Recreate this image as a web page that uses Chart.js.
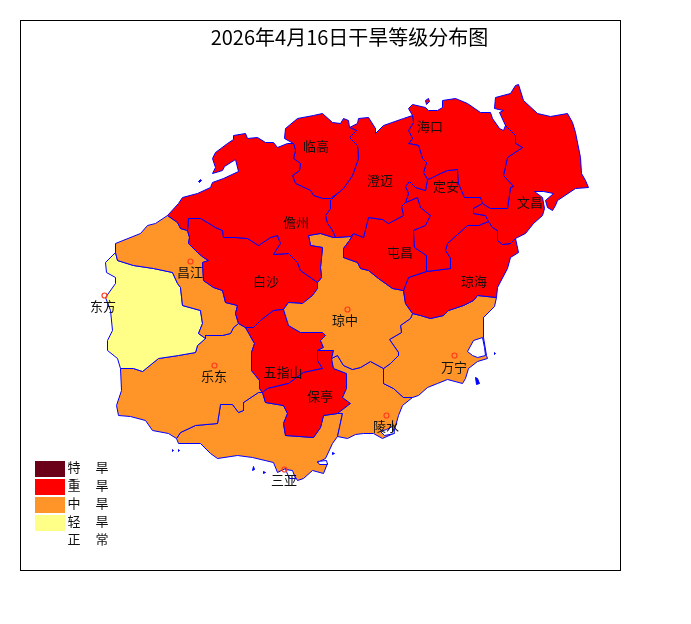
<!DOCTYPE html>
<html>
<head>
<meta charset="utf-8">
<script src="https://cdn.jsdelivr.net/npm/chart.js@4"></script>
<style>
    html, body { margin: 0; background: #fff; overflow: hidden; }
    canvas { display: block; }
</style>
</head>
<body>
<canvas id="droughtMap" width="691" height="624"></canvas>
<script>
const chartTitle = "2026年4月16日干旱等级分布图";

// Legend
const levelNames  = ["特旱", "重旱", "中旱", "轻旱", "正常"];
const levelColors = ["#6B0019", "#FF0000", "#FF9428", "#FFFF88", "#FFFFFF"];

// Boundary chains, in map units
const dzCoast = [[167,215],[178,203],[182,197],[197,193],[210,187],[212,182],[223,178],[238,171],[235,159],[224,166],[222,170],[212,173],[215,167],[212,158],[215,152],[227,143],[233,139],[233,135],[245,133],[247,138],[257,137],[265,142],[273,142],[277,147],[287,143],[293,143]];
const dzLg = [[293,143],[295,150],[293,158],[300,163],[299,170],[292,175],[295,183],[310,190],[313,195],[322,198],[330,198],[337,193]];
const dzCm = [[337,193],[330,200],[330,208],[325,215],[327,223],[332,230],[335,237]];
const dzQz = [[335,237],[333,237],[320,233],[308,235],[310,245],[322,247],[320,267],[321,277],[317,282]];
const dzBs = [[317,282],[300,270],[297,262],[288,253],[273,254],[280,243],[277,235],[270,237],[258,245],[247,238],[235,237],[223,237],[222,230],[215,227],[207,222],[200,218],[188,218],[187,230]];
const dzCj = [[187,230],[180,228],[177,222],[167,215]];

const lgCoast = [[293,143],[284,138],[285,128],[297,118],[313,115],[322,113],[332,122],[340,123],[343,118],[348,120],[349,127]];
const lgCm = [[349,127],[356,130],[349,137],[357,145],[358,158],[352,175],[343,188],[337,193]];

const cmCoast = [[349,127],[357,123],[358,118],[368,117],[375,128],[375,133],[383,125],[403,118],[412,115]];
const cmHk = [[412,115],[413,122],[408,130],[412,138],[408,143],[418,145],[422,158],[426,162],[423,172],[427,179]];
const cmDa = [[427,179],[425,190],[415,187],[409,181],[405,186],[408,193],[405,202]];
const cmTc = [[405,202],[401,206],[403,215],[388,223],[382,219],[368,217],[363,237],[353,233]];
const cmQz = [[353,233],[350,236],[335,237]];

const hkCoast = [[412,115],[408,108],[412,104],[425,107],[428,110],[437,110],[442,107],[442,100],[455,98],[467,103],[480,112],[490,112],[492,118],[499,128],[503,130],[505,125]];
const hkWc = [[505,125],[515,135],[515,143],[522,147],[507,157],[503,175],[513,186],[510,187],[507,208],[490,208],[482,203]];
const hkDa = [[427,179],[432,177],[440,173],[447,170],[457,169],[458,183],[464,197],[480,197],[482,203]];

const wcCoast = [[505,125],[499,112],[503,110],[494,108],[495,97],[510,93],[515,85],[518,84],[523,100],[537,113],[550,116],[567,113],[572,122],[575,132],[580,157],[581,173],[585,180],[588,187],[575,188],[557,200],[555,205],[552,210],[547,207],[545,200],[553,193],[543,191],[534,191],[542,197],[544,208],[542,215],[533,223],[525,233],[517,237],[515,238]];
const wcQh = [[488,221],[492,227],[497,230],[497,240],[502,244],[510,243],[515,238]];
const daWc = [[482,203],[473,208],[473,213],[485,215],[488,221]];
const daQh = [[488,221],[478,225],[467,225],[447,243],[445,250],[450,258],[450,268],[426,271]];

const tcDa = [[405,202],[417,197],[420,207],[430,215],[425,225],[413,230],[414,247],[426,255],[426,271]];
const tcQh = [[426,271],[408,277],[403,290]];
const tcQz = [[353,233],[349,240],[343,248],[343,257],[357,262],[360,268],[368,270],[378,278],[392,288],[403,290]];

const qhCoast = [[515,238],[518,252],[510,257],[507,268],[497,287],[496,297]];
const qhWn = [[496,297],[477,295],[473,300],[463,305],[448,310],[443,315],[430,318],[420,315],[412,313]];
const qzQh = [[412,313],[405,303],[403,290]];

const qzWn = [[412,313],[410,318],[400,325],[401,332],[389,339],[398,352],[398,355],[390,363],[383,368]];
const wnCoast = [[496,297],[494,306],[483,317],[483,337],[486,355],[487,358],[477,361],[468,368],[465,378],[462,383],[447,379],[437,383],[427,387],[418,395],[412,397]];
const wnLs = [[383,368],[383,377],[383,383],[393,388],[403,397],[412,397]];

const lsQz = [[331,358],[337,355],[343,365],[352,369],[360,367],[370,361],[383,368]];
const lsCoast = [[412,397],[402,405],[398,415],[393,433],[382,438],[373,433],[363,433],[355,434],[347,438],[337,436]];
const btLs = [[331,358],[333,368],[346,373],[346,388],[342,397],[350,403],[337,413]];
const qzBt = [[331,358],[333,350],[317,350]];
const qzWz = [[317,350],[323,347],[320,340],[325,335],[322,332],[300,332],[288,325],[283,309]];
const qzBs = [[283,309],[288,302],[302,303],[312,295],[317,288],[317,282]];
const wzBt = [[317,350],[317,360],[322,368],[303,372],[288,383],[267,388],[262,392]];
const syBt = [[262,392],[265,402],[283,405],[287,413],[283,423],[285,435],[313,437],[320,427],[323,415],[337,413]];
const syLs = [[337,413],[342,413],[337,436]];
const syCoast = [[337,436],[332,443],[325,458],[317,462],[327,463],[323,473],[312,470],[303,478],[297,480],[292,472],[285,468],[277,472],[273,462],[252,457],[237,455],[217,458],[210,453],[200,443],[178,443],[176,438]];
const ldSy = [[262,392],[258,392],[243,402],[243,410],[238,412],[232,404],[220,404],[217,423],[195,425],[180,432],[176,438]];
const ldWz = [[245,327],[254,343],[251,352],[251,370],[259,380],[259,388],[262,392]];
const bsWz = [[245,327],[253,327],[260,320],[273,310],[283,309]];
const ldBs = [[238,323],[245,327]];
const cjBs = [[187,230],[189,237],[188,243],[197,252],[203,257],[208,260],[202,262],[203,280],[213,287],[222,290],[225,302],[237,305],[235,313],[238,323]];
const ldCj = [[205,338],[205,335],[222,335],[230,333],[233,327],[238,323]];
const dfCj = [[115,252],[117,260],[133,265],[153,268],[172,272],[177,283],[180,287],[182,305],[200,310],[202,323],[198,333],[205,338]];
const cjCoast = [[115,252],[115,243],[140,233],[147,225],[155,223],[167,215]];
const ldDf = [[205,338],[197,345],[195,352],[178,355],[158,358],[142,371],[133,368],[120,368]];
const dfCoast = [[120,368],[117,358],[107,350],[107,340],[112,330],[110,310],[105,297],[115,283],[115,277],[106,272],[105,262],[115,252]];
const ldCoast = [[176,438],[168,433],[152,430],[145,420],[130,416],[118,415],[116,405],[121,390],[120,368]];

const rev = a => [...a].reverse();

// Counties: name, drought level index, outline
const countyNames = ["儋州","临高","澄迈","海口","文昌","定安","屯昌","琼海","琼中","万宁","陵水","保亭","五指山","白沙","昌江","东方","乐东","三亚"];
const countyLevels = [1,1,1,1,1,1,1,1,2,2,2,1,1,1,2,3,2,2];
const countyRings = [
    [...dzCoast, ...dzLg, ...dzCm, ...dzQz, ...dzBs, ...dzCj],
    [...lgCoast, ...lgCm, ...rev(dzLg)],
    [...cmCoast, ...cmHk, ...cmDa, ...cmTc, ...cmQz, ...rev(dzCm), ...rev(lgCm)],
    [...hkCoast, ...hkWc, ...rev(hkDa), ...rev(cmHk)],
    [...wcCoast, ...rev(wcQh), ...rev(daWc), ...rev(hkWc)],
    [...hkDa, ...daWc, ...daQh, ...rev(tcDa), ...rev(cmDa)],
    [...tcDa, ...tcQh, ...rev(tcQz), ...rev(cmTc)],
    [...rev(daQh), ...wcQh, ...qhCoast, ...qhWn, ...qzQh, ...rev(tcQh)],
    [...rev(dzQz), ...rev(cmQz), ...tcQz, ...rev(qzQh), ...qzWn, ...rev(lsQz), ...qzBt, ...qzWz, ...qzBs],
    [...rev(qhWn), ...wnCoast, ...rev(wnLs), ...rev(qzWn)],
    [...lsQz, ...wnLs, ...lsCoast, ...rev(syLs), ...rev(btLs)],
    [...rev(qzBt), ...btLs, ...rev(syBt), ...rev(wzBt)],
    [...rev(qzWz), ...wzBt, ...rev(ldWz), ...bsWz],
    [...rev(dzBs), ...rev(qzBs), ...rev(bsWz), ...rev(ldBs), ...rev(cjBs)],
    [...cjCoast, ...rev(dzCj), ...cjBs, ...rev(ldCj), ...rev(dfCj)],
    [...dfCj, ...ldDf, ...dfCoast],
    [...rev(ldDf), ...ldCj, ...ldBs, ...ldWz, ...ldSy, ...ldCoast],
    [...syBt, ...syLs, ...syCoast, ...rev(ldSy)],
];

// Label anchors, map units
const labelX = [296,316,380,430,530,446,400,474,345,454,386,320,283,266,190,103,214,284];
const labelY = [222,146,180,126,202,186,252,281,320,367,426,396,372,281,272,306,376,480];

// White water bodies inside the land and tiny islets
const waterRings = [
    [[467,351],[473,340],[482,337],[484,347],[485,355],[477,357],[472,355]],
    [[380,431],[386,429],[392,426],[394,433],[384,435]],
    [[285,469],[292,470],[295,478],[289,478]],
    [[317,461],[326,460],[327,464],[319,464]],
];
const isletRings = [
    [[198,181],[200,179],[201,180],[199,182]],
    [[494,352],[495,353],[494,354]],
    [[475,377],[477,378],[479,383],[476,384]],
    [[253,466],[254,469],[252,470]],
    [[263,471],[265,472],[263,473]],
    [[172,449],[173,450],[172,451]],
    [[178,449],[179,450],[178,451]],
    [[332,452],[334,453],[332,454]],
];
const smallIsle = [[425,100],[428,98],[429,101],[426,104]];

// City rings that are visible on the map
const cityX = [190,104,347,214,454,386,284];
const cityY = [261,295,309,365,355,415,469];

const toPoints = ring => [...ring, ring[0]].map(p => ({ x: p[0], y: p[1] }));

const polygon = (ring, color) => ({
    data: toPoints(ring),
    showLine: true,
    fill: "shape",
    backgroundColor: color,
    borderColor: "#0000FF",
    borderWidth: 1,
    pointRadius: 0,
    tension: 0
});

// Chart.js paints the first dataset last, so top layers come first
const datasets = [
    {
        data: cityX.map((x, i) => ({ x, y: cityY[i] })),
        showLine: false,
        pointStyle: "circle",
        pointRadius: 2.5,
        pointBorderWidth: 1.2,
        pointBorderColor: "#FF3C1E",
        pointBackgroundColor: "transparent"
    },
    polygon(smallIsle, "#FF0000"),
    ...isletRings.map(ring => polygon(ring, "#0000FF")),
    ...waterRings.map(ring => polygon(ring, "#FFFFFF")),
    ...countyRings.map((ring, i) => polygon(ring, levelColors[countyLevels[i]])),
];

// Frame, county names and the legend block
const mapDecor = {
    id: "mapDecor",
    afterDatasetsDraw(chart) {
        const { ctx, scales: { x, y } } = chart;
        const px = v => Math.floor(x.getPixelForValue(v));
        const py = v => Math.floor(y.getPixelForValue(v));
        ctx.save();

        ctx.strokeStyle = "#000";
        ctx.lineWidth = 1;
        ctx.strokeRect(px(20) + 0.5, py(20) + 0.5, 600, 550);

        ctx.fillStyle = "#111";
        ctx.textAlign = "center";
        ctx.textBaseline = "middle";
        ctx.font = '13px "Noto Sans CJK SC"';
        countyNames.forEach((name, i) => ctx.fillText(name, px(labelX[i]), py(labelY[i])));

        levelNames.forEach((name, i) => {
            const top = py(461 + i * 18);
            if (i < 4) {
                ctx.fillStyle = levelColors[i];
                ctx.fillRect(px(35), top, 30, 16);
            }
            ctx.fillStyle = "#111";
            ctx.fillText(name[0], px(74), top + 6);
            ctx.fillText(name[1], px(102), top + 6);
        });
        ctx.restore();
    }
};

new Chart(document.getElementById("droughtMap"), {
    type: "scatter",
    data: { datasets },
    plugins: [mapDecor],
    options: {
        responsive: false,
        animation: false,
        layout: { padding: { left: 20, right: 12, top: 20, bottom: 54 } },
        plugins: {
            legend: { display: false },
            tooltip: { enabled: false },
            title: {
                display: true,
                text: chartTitle,
                color: "#000",
                font: { family: '"Noto Sans CJK SC"', size: 20, weight: "normal", lineHeight: 1 },
                padding: { top: 7, bottom: 3 }
            }
        },
        scales: {
            // half unit offset puts the 1px outlines on pixel centres
            x: { type: "linear", min: 19.5, max: 678.5, display: false },
            y: { type: "linear", min: 49.5, max: 569.5, reverse: true, display: false }
        }
    }
});
</script>
</body>
</html>
